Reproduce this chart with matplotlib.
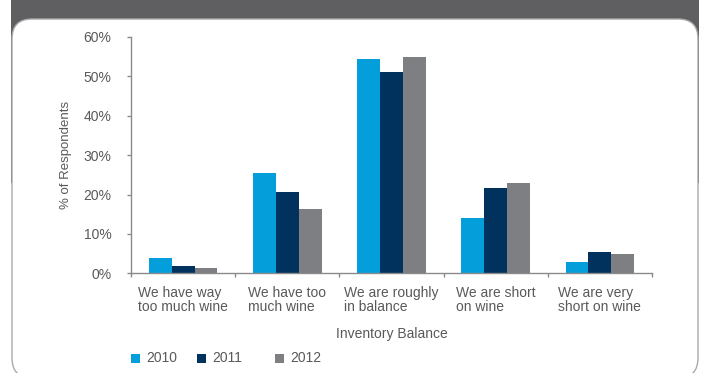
import matplotlib
matplotlib.use("Agg")
import matplotlib.pyplot as plt
from matplotlib.patches import FancyBboxPatch, Rectangle
import numpy as np

plt.rcParams['font.family'] = ['Liberation Sans', 'DejaVu Sans']

categories = [
    "We have way\ntoo much wine",
    "We have too\nmuch wine",
    "We are roughly\nin balance",
    "We are short\non wine",
    "We are very\nshort on wine",
]
series_names = ["2010", "2011", "2012"]
values_2010 = [3.9, 25.4, 54.3, 14.0, 2.9]
values_2011 = [1.9, 20.7, 51.1, 21.6, 5.3]
values_2012 = [1.4, 16.2, 54.8, 23.0, 4.8]
y_ticks = [0, 10, 20, 30, 40, 50, 60]

colors = ["#049fdb", "#00325d", "#7e7f83"]
text_color = "#58595b"
axis_color = "#8a8a8c"

W, H = 702, 373
fig = plt.figure(figsize=(W / 100, H / 100), dpi=100, facecolor="white")

# Background frame in pixel units (y measured from the top)
bg = fig.add_axes([0, 0, 1, 1], zorder=0)
bg.set_xlim(0, W)
bg.set_ylim(H, 0)
bg.axis("off")
bg.add_patch(Rectangle((11, -5), 688, 188, facecolor="#5f5f61", edgecolor="none"))
bg.add_patch(FancyBboxPatch((12, 19), 686, 359,
                            boxstyle="round,pad=0,rounding_size=20",
                            facecolor="white", edgecolor="#a9a9ab", linewidth=1.0))

# Main bar chart
ax = fig.add_axes([131 / W, (H - 273.3) / H, (652 - 131) / W, (273.3 - 37) / H], zorder=1)
ax.set_facecolor("none")
x = np.arange(len(categories))
bw = 0.22
for i, (name, vals) in enumerate(zip(series_names, [values_2010, values_2011, values_2012])):
    ax.bar(x + (i - 1) * bw, vals, width=bw, color=colors[i], label=name, zorder=2)

ax.set_xlim(-0.5, len(categories) - 0.5)
ax.set_ylim(0, 60)
ax.set_yticks(y_ticks)
ax.set_yticklabels([f"{v}%" for v in y_ticks])
ax.set_xticks(np.arange(len(categories) + 1) - 0.5)
ax.set_xticklabels([])
ax.set_xticks(x, minor=True)
ax.set_xticklabels(categories, minor=True)
for lbl in ax.get_xticklabels(minor=True):
    lbl.set_multialignment("left")
    lbl.set_linespacing(1.05)

ax.tick_params(axis="x", which="major", direction="out", length=3, color=axis_color, width=1)
ax.tick_params(axis="x", which="minor", length=0, pad=9, labelsize=10, labelcolor=text_color)
ax.tick_params(axis="y", direction="out", length=3, color=axis_color, width=1,
               labelsize=10, labelcolor=text_color, pad=11)

for side in ["top", "right"]:
    ax.spines[side].set_visible(False)
for side in ["left", "bottom"]:
    ax.spines[side].set_color(axis_color)
    ax.spines[side].set_linewidth(1)

ax.set_ylabel("% of Respondents", fontsize=9.5, color=text_color)
ax.yaxis.set_label_coords(-0.113, 0.5)
ax.set_xlabel("Inventory Balance", fontsize=10, color=text_color)
ax.xaxis.set_label_coords(0.5, -0.228)

# Legend row along the bottom
legend_x = [131, 197, 275]
for name, col, lx in zip(series_names, colors, legend_x):
    bg.add_patch(Rectangle((lx, 354), 8.5, 8.5, facecolor=col, edgecolor="none"))
    bg.text(lx + 15, 358.5, name, fontsize=10, color=text_color, va="center", ha="left")

fig.savefig("out.png", dpi=100, facecolor="white")
